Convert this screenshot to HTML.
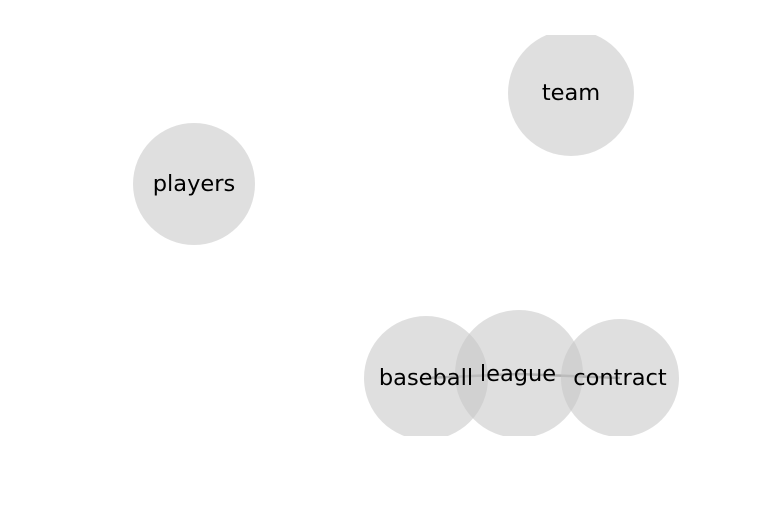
<!DOCTYPE html>
<html><head><style>html,body{margin:0;padding:0;background:#fff;}</style></head><body>
<svg width="768" height="500" xmlns="http://www.w3.org/2000/svg">
<defs><clipPath id="c"><rect x="0" y="35" width="768" height="401"/></clipPath></defs>
<g clip-path="url(#c)">
<line x1="426" y1="378" x2="519" y2="374" stroke="#999" stroke-width="2.5"/>
<line x1="519" y1="374" x2="620" y2="378" stroke="#999" stroke-width="2.5"/>
<g fill="#c4c4c4" fill-opacity="0.55">
<circle cx="571" cy="93" r="63"/>
<circle cx="194" cy="184" r="61"/>
<circle cx="426" cy="378" r="62"/>
<circle cx="519" cy="374" r="64"/>
<circle cx="620" cy="378" r="59"/>
</g>
<g font-family="DejaVu Sans, Liberation Sans, sans-serif" font-size="22.5" fill="#000" text-anchor="middle" dominant-baseline="central">
<text x="571" y="93">team</text>
<text x="194" y="184">players</text>
<text x="426" y="378">baseball</text>
<text x="518" y="374">league</text>
<text x="620" y="378">contract</text>
</g>
</g>
</svg>
</body></html>
